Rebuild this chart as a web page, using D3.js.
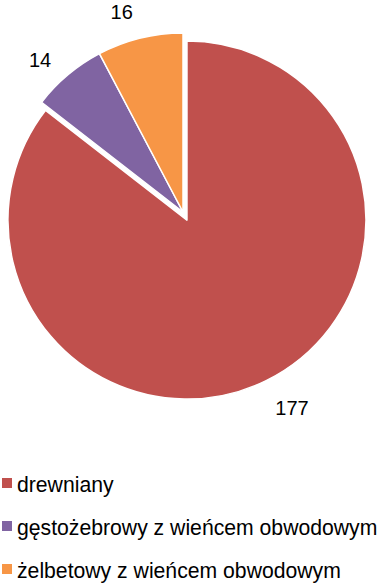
<!DOCTYPE html>
<html>
<head>
<meta charset="utf-8">
<script src="https://cdn.jsdelivr.net/npm/d3@7"></script>
<style>
  html, body { margin: 0; padding: 0; background: #fff; }
  svg { display: block; font-family: Arial, "Liberation Sans", sans-serif; }
</style>
</head>
<body>
<svg id="chart" width="380" height="585"></svg>
<script>
// Wall/ceiling types and counts
const categories = ["drewniany", "gęstożebrowy z wieńcem obwodowym", "żelbetowy z wieńcem obwodowym"];
const values = [177, 14, 16];
const colors = ["#C0504D", "#8064A2", "#F79646"];
const explode = [9, 0, 0];

const svg = d3.select("#chart");
const cx = 183, cy = 212, r = 179;

const pie = d3.pie().sort(null).value(d => d.value);
const arcs = pie(categories.map((c, i) => ({ name: c, value: values[i], color: colors[i], explode: explode[i] })));
const arc = d3.arc().innerRadius(0).outerRadius(r);

const g = svg.append("g").attr("transform", `translate(${cx},${cy})`);

function offset(d) {
  const a = (d.startAngle + d.endAngle) / 2;
  const e = d.data.explode;
  return [e * Math.sin(a), -e * Math.cos(a)];
}

g.selectAll("path.slice")
  .data(arcs)
  .join("path")
  .attr("class", "slice")
  .attr("d", arc)
  .attr("transform", d => { const o = offset(d); return `translate(${o[0]},${o[1]})`; })
  .attr("fill", d => d.data.color)
  .attr("stroke", "#fff")
  .attr("stroke-width", 1.5)
  .attr("stroke-linejoin", "round");

// Value labels just outside each slice
function labelPos(d) {
  const o = offset(d);
  const a = (d.startAngle + d.endAngle) / 2 - 0.055;
  const rr = d.data.explode ? 215 : 209;
  return [o[0] + rr * Math.sin(a), o[1] - rr * Math.cos(a)];
}
g.selectAll("text.val")
  .data(arcs)
  .join("text")
  .attr("class", "val")
  .attr("font-size", 20)
  .attr("fill", "#000")
  .attr("text-anchor", "middle")
  .attr("dominant-baseline", "central")
  .attr("x", d => labelPos(d)[0])
  .attr("y", d => labelPos(d)[1])
  .text(d => d.data.value);

// Legend
const legend = svg.append("g").attr("transform", "translate(2,0)");
const rowY = d3.scalePoint().domain(categories).range([492, 578]);
const items = legend.selectAll("g.item")
  .data(categories)
  .join("g")
  .attr("class", "item")
  .attr("transform", d => `translate(0,${rowY(d)})`);
items.append("rect")
  .attr("x", 0).attr("y", -14)
  .attr("width", 10).attr("height", 10)
  .attr("fill", (d, i) => colors[i]);
items.append("text")
  .attr("x", 15).attr("y", 0)
  .attr("font-size", 21.2)
  .attr("fill", "#000")
  .text(d => d);
</script>
</body>
</html>
